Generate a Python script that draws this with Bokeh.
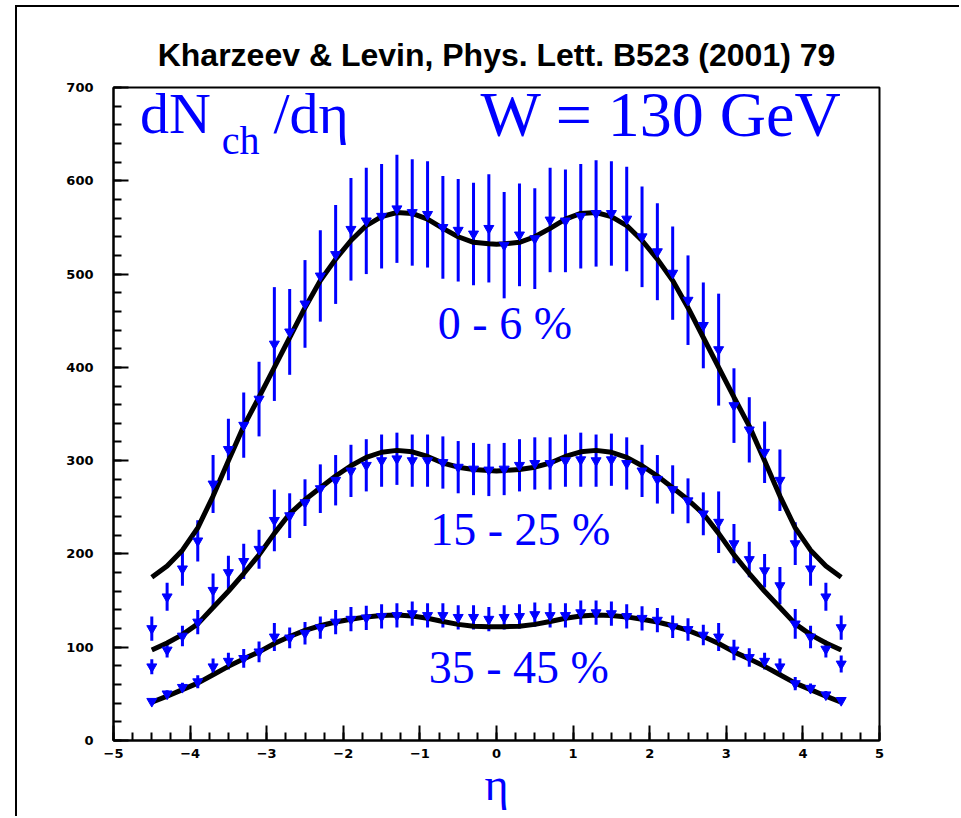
from bokeh.plotting import figure
from bokeh.models import ColumnDataSource, FixedTicker, Label
from bokeh.embed import file_html
from bokeh.resources import INLINE

# ---- pseudorapidity bins of the measured points ----
eta = [-4.5, -4.3, -4.1, -3.9, -3.7, -3.5, -3.3, -3.1, -2.9, -2.7, -2.5, -2.3,
       -2.1, -1.9, -1.7, -1.5, -1.3, -1.1, -0.9, -0.7, -0.5, -0.3, -0.1,
       0.1, 0.3, 0.5, 0.7, 0.9, 1.1, 1.3, 1.5, 1.7, 1.9, 2.1, 2.3, 2.5,
       2.7, 2.9, 3.1, 3.3, 3.5, 3.7, 3.9, 4.1, 4.3, 4.5]

# dN_ch/deta data, 0-6 % centrality
data_0_6 = [120, 154, 184, 214, 275, 312, 338, 366, 425, 438, 468, 498,
            521, 548, 557, 562, 570, 566, 564, 550, 547, 543, 549,
            531, 542, 538, 558, 557, 562, 565, 565, 559, 540, 524, 501, 472,
            445, 419, 359, 333, 309, 279, 211, 184, 154, 121]
err_0_6 = [13, 15, 18, 22, 31, 33, 35, 40, 61, 46, 47, 49,
           53, 55, 57, 56, 58, 57, 57, 55, 55, 55, 58,
           57, 55, 54, 56, 55, 56, 57, 56, 56, 54, 52, 50, 48,
           46, 60, 40, 35, 33, 33, 23, 18, 15, 13]

# 15-25 % centrality
data_15_25 = [79, 97, 112, 127, 161, 180, 192, 205, 236, 241, 255, 270,
              279, 289, 295, 300, 302, 300, 300, 298, 293, 291, 290,
              291, 295, 297, 297, 300, 301, 300, 301, 297, 289, 280, 269, 257,
              243, 234, 211, 194, 182, 166, 125, 111, 98, 82]
err_15_25 = [8, 8, 11, 13, 18, 18, 19, 21, 33, 24, 25, 26,
             27, 28, 28, 28, 28, 28, 28, 28, 28, 28, 28,
             28, 28, 28, 28, 28, 29, 28, 28, 28, 28, 26, 26, 24,
             23, 33, 21, 19, 18, 20, 16, 12, 9, 9]

# 35-45 % centrality
data_35_45 = [42, 50, 57, 63, 79, 85, 88, 95, 111, 110, 115, 121,
              127, 130, 131.5, 133, 134, 136, 134, 134, 132, 132, 130,
              132, 133, 135, 134, 134, 137, 137, 136, 133, 131, 129, 122, 119,
              113, 111, 97, 89, 85, 79, 61, 56, 49, 43]
err_35_45 = [3, 4, 5, 7, 9, 9, 10, 11, 15, 11, 12, 12,
             13, 13, 13, 13, 13, 13, 13, 13, 13, 13, 13,
             13, 13, 13, 13, 13, 13, 13, 13, 13, 13, 13, 12, 12,
             11, 15, 11, 10, 9, 9, 7, 5, 4, 3]

# ---- Kharzeev-Levin prediction curves ----
eta_curve = [-4.5, -4.3, -4.1, -3.9, -3.7, -3.5, -3.3, -3.1, -2.9, -2.7, -2.5, -2.3,
             -2.1, -1.9, -1.7, -1.5, -1.3, -1.1, -0.9, -0.7, -0.5, -0.3, -0.1, 0.0,
             0.1, 0.3, 0.5, 0.7, 0.9, 1.1, 1.3, 1.5, 1.7, 1.9, 2.1, 2.3, 2.5,
             2.7, 2.9, 3.1, 3.3, 3.5, 3.7, 3.9, 4.1, 4.3, 4.5]
theory_0_6 = [175, 187, 204, 228, 262, 300, 337, 368, 400, 432, 464, 493,
              516, 536, 552, 561.5, 566, 565, 559, 549, 540, 534, 532.5, 532,
              532.5, 534, 540, 549, 559, 565, 566, 561.5, 552, 536, 516, 493, 464,
              432, 400, 368, 337, 300, 262, 228, 204, 187, 175]
theory_15_25 = [97, 104.5, 113.5, 125, 142.5, 160, 179, 199, 222, 243, 258, 271,
                283.5, 294.5, 303.5, 309, 311, 309.5, 304.5, 297.5, 293, 290.5, 289.5, 289,
                289.5, 290.5, 293, 297.5, 304.5, 309.5, 311, 309, 303.5, 294.5, 283.5, 271, 258,
                243, 222, 199, 179, 160, 142.5, 125, 113.5, 104.5, 97]
theory_35_45 = [41, 47.5, 54.5, 61.5, 70.5, 79.5, 87.5, 95, 104, 111.5, 118, 123,
                127, 130, 132.5, 134, 134.5, 133.5, 131, 127.5, 124.5, 122.5, 122, 122,
                122, 122.5, 124.5, 127.5, 131, 133.5, 134.5, 134, 132.5, 130, 127, 123, 118,
                111.5, 104, 95, 87.5, 79.5, 70.5, 61.5, 54.5, 47.5, 41]

x_ticks = [-5, -4, -3, -2, -1, 0, 1, 2, 3, 4, 5]
y_ticks = [0, 100, 200, 300, 400, 500, 600, 700]

BLUE = "#0000ff"
SERIF = "Liberation Serif"

# the page frame: a border on the top and left of the whole figure
p = figure(width=944, height=811, x_range=(-5, 5), y_range=(0, 700),
           output_backend="svg", toolbar_location=None,
           min_border_left=96, min_border_right=82,
           min_border_top=80, min_border_bottom=78,
           title="Kharzeev & Levin, Phys. Lett. B523 (2001) 79")
p.styles = {"margin-left": "15px", "margin-top": "5px",
            "border-left": "2px solid black", "border-top": "2px solid black"}
p.grid.visible = False
p.background_fill_color = "white"
p.border_fill_color = "white"
p.outline_line_color = "black"
p.outline_line_width = 2

p.title.align = "center"
p.title.text_font = "Liberation Sans"
p.title.text_font_style = "bold"
p.title.text_font_size = "32px"
p.title.text_color = "black"
p.title.standoff = 29

p.xaxis.ticker = FixedTicker(ticks=x_ticks, minor_ticks=[i / 4 for i in range(-20, 21)])
p.yaxis.ticker = FixedTicker(ticks=y_ticks, minor_ticks=list(range(0, 701, 20)))
for ax in (p.xaxis, p.yaxis):
    ax.axis_line_width = 2
    ax.axis_line_color = "black"
    ax.major_tick_in = 15
    ax.major_tick_out = 0
    ax.minor_tick_in = 8
    ax.minor_tick_out = 0
    ax.major_tick_line_width = 2
    ax.minor_tick_line_width = 2
    ax.major_label_text_font = "DejaVu Sans"
    ax.major_label_text_font_style = "bold"
    ax.major_label_text_font_size = "13px"
    ax.major_label_text_color = "black"
p.yaxis.major_label_standoff = 20
p.xaxis.major_label_standoff = 8

p.xaxis.axis_label = "η"
p.xaxis.axis_label_text_font = SERIF
p.xaxis.axis_label_text_font_style = "normal"
p.xaxis.axis_label_text_font_size = "46px"
p.xaxis.axis_label_text_color = BLUE
p.xaxis.axis_label_standoff = -2

series = [(data_0_6, err_0_6, theory_0_6),
          (data_15_25, err_15_25, theory_15_25),
          (data_35_45, err_35_45, theory_35_45)]

for vals, errs, theo in series:
    src = ColumnDataSource(dict(eta=eta, v=vals,
                                lo=[a - b for a, b in zip(vals, errs)],
                                hi=[a + b for a, b in zip(vals, errs)]))
    p.segment(x0="eta", y0="lo", x1="eta", y1="hi", source=src,
              line_color=BLUE, line_width=3)
    p.line(eta_curve, theo, line_color="black", line_width=5)
    p.scatter(x="eta", y="v", source=src, marker="inverted_triangle",
              size=10, fill_color=BLUE, line_color=BLUE)


def blue_text(x, y, txt, size, align="center"):
    p.add_layout(Label(x=x, y=y, text=txt, text_align=align,
                       text_baseline="alphabetic", text_font=SERIF,
                       text_font_size=size, text_color=BLUE))


# dN_ch/deta
blue_text(-4.19, 672, "dN", "58px")
blue_text(-3.34, 643, "ch", "40px")
blue_text(-2.42, 672, "/dη", "58px")
# W = 130 GeV
blue_text(2.15, 671, "W = 130 GeV", "64px")

# centrality labels
blue_text(0.11, 446.5, "0 - 6 %", "46px")
blue_text(0.31, 226, "15 - 25 %", "46px")
blue_text(0.29, 78, "35 - 45 %", "46px")

open("out.html", "w").write(file_html(p, INLINE))
